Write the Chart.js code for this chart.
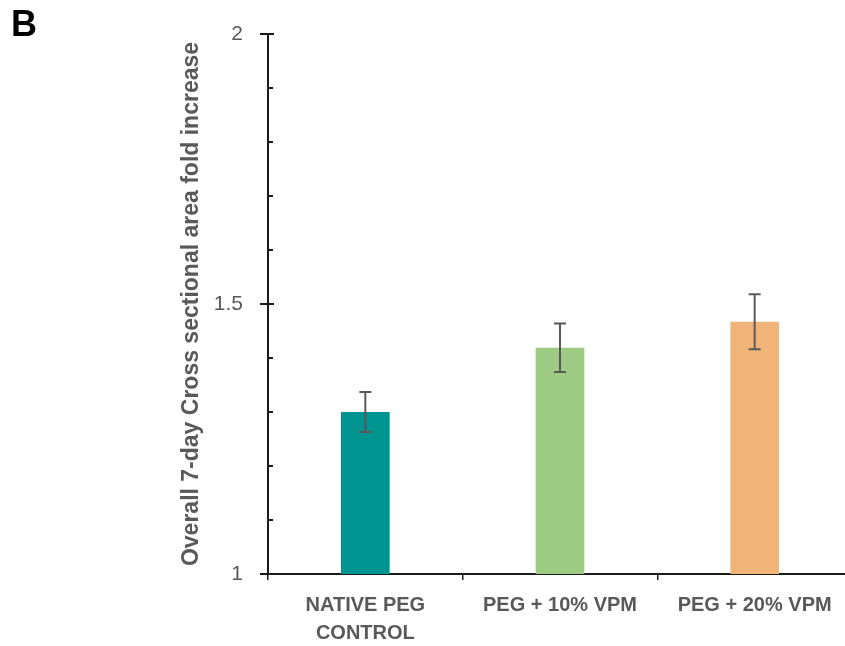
<!DOCTYPE html>
<html>
<head>
<meta charset="utf-8">
<script src="https://cdn.jsdelivr.net/npm/chart.js@4/dist/chart.umd.min.js"></script>
<style>
  html, body { margin: 0; padding: 0; background: #fff; overflow: hidden; }
  #wrap { position: absolute; left: 0; top: 0; width: 860px; height: 646px; }
  #panel { position: absolute; left: 11px; top: 6px; font: bold 36px "Liberation Sans", Arial, sans-serif; color: #000; line-height: 1; }
</style>
</head>
<body>
<div id="wrap">
  <canvas id="chart" width="860" height="646"></canvas>
  <div id="panel">B</div>
</div>
<script>
// chart data
var categories = [['NATIVE PEG', 'CONTROL'], 'PEG + 10% VPM', 'PEG + 20% VPM'];
var foldIncrease = [1.300, 1.419, 1.467];
var errorSize = [0.037, 0.045, 0.051];
var barColors = ['#009490', '#9DCB84', '#F0B478'];
var yMin = 1, yMax = 2;

var grey = '#595959';
var axisColor = '#1a1a1a';
var fontFamily = '"Liberation Sans", Arial, sans-serif';

// error bars, drawn from the y scale
var errorBars = {
  id: 'errorBars',
  afterDatasetsDraw: function(chart) {
    var ctx = chart.ctx;
    var y = chart.scales.y;
    var meta = chart.getDatasetMeta(0);
    ctx.save();
    ctx.strokeStyle = grey;
    ctx.lineWidth = 2;
    meta.data.forEach(function(bar, i) {
      var top = y.getPixelForValue(foldIncrease[i] + errorSize[i]);
      var bot = y.getPixelForValue(foldIncrease[i] - errorSize[i]);
      ctx.beginPath();
      ctx.moveTo(bar.x, top); ctx.lineTo(bar.x, bot);
      ctx.moveTo(bar.x - 6, top); ctx.lineTo(bar.x + 6, top);
      ctx.moveTo(bar.x - 6, bot); ctx.lineTo(bar.x + 6, bot);
      ctx.stroke();
    });
    ctx.restore();
  }
};

// y tick marks: major ones cross the axis, minor ones point inwards
var yTickMarks = {
  id: 'yTickMarks',
  afterDraw: function(chart) {
    var ctx = chart.ctx;
    var y = chart.scales.y;
    var x0 = chart.chartArea.left;
    ctx.save();
    ctx.strokeStyle = axisColor;
    ctx.lineWidth = 2;
    y.ticks.forEach(function(t) {
      var py = Math.round(y.getPixelForValue(t.value));
      var major = Math.abs(t.value * 2 - Math.round(t.value * 2)) < 1e-6;
      ctx.beginPath();
      if (major) { ctx.moveTo(x0 - 8, py); ctx.lineTo(x0 + 6, py); }
      else { ctx.moveTo(x0, py); ctx.lineTo(x0 + 5, py); }
      ctx.stroke();
    });
    ctx.restore();
  }
};

var ctx = document.getElementById('chart').getContext('2d');
new Chart(ctx, {
  type: 'bar',
  data: {
    labels: categories,
    datasets: [{
      data: foldIncrease,
      backgroundColor: barColors,
      borderWidth: 0,
      categoryPercentage: 1,
      barPercentage: 0.25
    }]
  },
  options: {
    responsive: false,
    animation: false,
    layout: { padding: { top: 34, right: 8, left: 0, bottom: 0 } },
    plugins: { legend: { display: false }, tooltip: { enabled: false } },
    scales: {
      x: {
        offset: true,
        grid: { display: true, drawOnChartArea: false, offset: true, tickLength: 6, color: axisColor, lineWidth: 1.5 },
        border: { display: true, color: axisColor, width: 2 },
        ticks: {
          color: grey, padding: 11, maxRotation: 0, autoSkip: false,
          font: { family: fontFamily, size: 20, weight: 'bold', lineHeight: 1.4 }
        },
        afterFit: function(s) { s.height = 72; s.paddingLeft = 0; s.paddingRight = 0; }
      },
      y: {
        min: yMin, max: yMax,
        grid: { display: false, drawTicks: false },
        border: { display: true, color: axisColor, width: 2 },
        ticks: {
          stepSize: 0.1, padding: 25, color: grey,
          font: { family: fontFamily, size: 21 },
          callback: function(v) {
            return Math.abs(v * 2 - Math.round(v * 2)) < 1e-6 ? String(Math.round(v * 10) / 10) : '';
          }
        },
        title: {
          display: true,
          text: 'Overall 7-day Cross sectional area fold increase',
          color: grey,
          font: { family: fontFamily, size: 23, weight: 'bold' },
          padding: { top: 178, bottom: 0 }
        },
        afterFit: function(s) { s.width = 268; s.paddingTop = 0; s.paddingBottom = 0; }
      }
    }
  },
  plugins: [errorBars, yTickMarks]
});
</script>
</body>
</html>
